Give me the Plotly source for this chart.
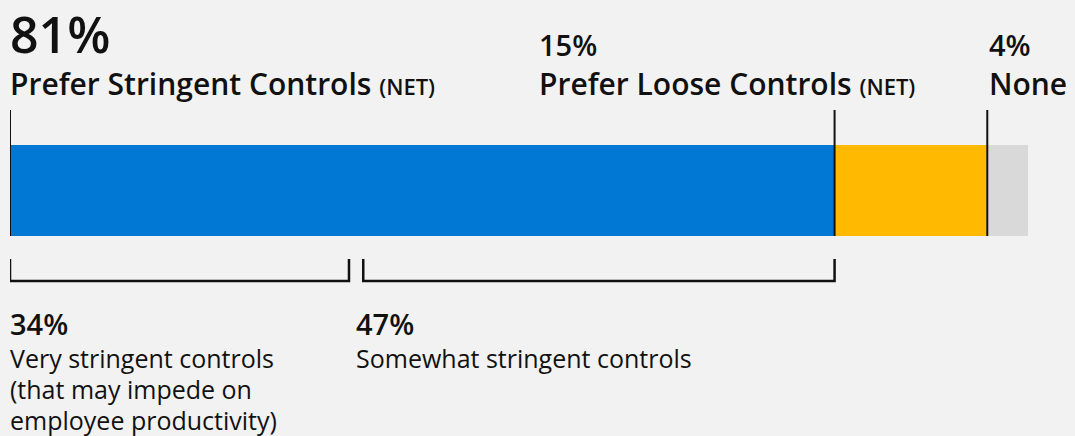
import plotly.graph_objects as go

# Data
segments = ["Prefer Stringent Controls", "Prefer Loose Controls", "None"]
values = [81, 15, 4]
colors = ["#0078d4", "#ffb900", "#d9d9d9"]
sub_values = [34, 47]
sub_label_lines = [
    ["Very stringent controls", "(that may impede on", "employee productivity)"],
    ["Somewhat stringent controls"],
]

FONT = "Open Sans"
BG = "#f2f2f2"

fig = go.Figure()
for name, v, c in zip(segments, values, colors):
    fig.add_trace(go.Bar(x=[v], y=[190.5], width=[91], orientation="h", name=name,
                         marker=dict(color=c, line=dict(width=0)), hoverinfo="skip"))

# Boundaries
cum = [0, values[0], values[0] + values[1]]
for b in cum:
    fig.add_shape(type="line", x0=b, x1=b, y0=110, y1=236, xref="x", yref="y",
                  line=dict(color="#111111", width=2))

# Brackets under stringent segments
gap = 0.7
starts = [0, sub_values[0] + gap]
ends = [sub_values[0] - gap, sub_values[0] + sub_values[1]]
for s, e in zip(starts, ends):
    fig.add_trace(go.Scatter(x=[s, s, e, e], y=[259, 281, 281, 259], mode="lines",
                             line=dict(color="#111111", width=2.5), hoverinfo="skip", showlegend=False))

ann = []
def A(x, y, text, size, weight=400):
    ann.append(dict(x=x, y=y, xref="x", yref="y", text=text, showarrow=False,
                    xanchor="left", yanchor="middle", align="left", xshift=-2,
                    font=dict(family=FONT, size=size, color="#111111", weight=weight)))

net = "<span style='font-size:22px'>(NET)</span>"
A(0, 34, f"{values[0]}%", 50, 600)
A(0, 83, f"{segments[0]} {net}", 30, 600)
A(52.0, 44, f"{values[1]}%", 29, 600)
A(52.0, 83, f"{segments[1]} {net}", 30, 600)
A(96.2, 44, f"{values[2]}%", 29, 600)
A(96.2, 83, segments[2], 30, 600)

sub_x = [0, 34.0]
for xx, v, lines in zip(sub_x, sub_values, sub_label_lines):
    A(xx, 323, f"{v}%", 29, 600)
    for i, line in enumerate(lines):
        A(xx, 358 + 31 * i, line, 25)

fig.update_layout(
    width=1075, height=436, margin=dict(l=10, r=47, t=0, b=0),
    paper_bgcolor=BG, plot_bgcolor=BG, barmode="stack", bargap=0,
    showlegend=False, annotations=ann,
    xaxis=dict(range=[0, 100], visible=False, fixedrange=True),
    yaxis=dict(range=[436, 0], visible=False, fixedrange=True),
)

fig.write_html("out.html", config={"displayModeBar": False})
